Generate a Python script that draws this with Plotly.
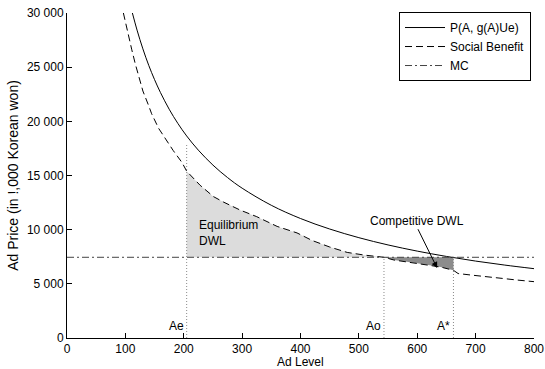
import plotly.graph_objects as go

# ---- data ----
solid_A = [112, 120, 130, 140, 150, 160, 175, 190, 205, 225, 250, 275, 300, 350,
           400, 450, 500, 550, 600, 650, 700, 750, 800]
solid_P = [30000, 28420, 26690, 25170, 23850, 22670, 21120, 19800, 18650, 17340,
           15960, 14810, 13830, 12250, 11030, 10060, 9260, 8590, 8020, 7530,
           7100, 6730, 6400]

social_A = [96.6, 104, 111, 117, 124, 130, 139.5, 145, 157, 168, 182, 197, 205,
            228, 251, 268, 297, 325, 360, 394, 420, 450, 480, 510, 543, 560,
            600, 640, 662, 670, 694, 714, 746, 771, 800]
social_P = [30000, 28100, 26600, 25300, 23900, 22800, 21500, 20700, 19350, 18400,
            17300, 16200, 15400, 14100, 13050, 12550, 11800, 11200, 10300, 9700,
            9000, 8400, 7900, 7650, 7450, 7200, 6900, 6550, 6250, 5950, 5800,
            5660, 5500, 5350, 5200]

MC = 7450
A_e = 205
A_o = 543
A_star = 662
Ae_top = 18000

x_ticks = [0, 100, 200, 300, 400, 500, 600, 700, 800]
y_ticks = [0, 5000, 10000, 15000, 20000, 25000, 30000]

# ---- build fill polygons from data ----
eq_x = [a for a in social_A if A_e <= a <= A_o]
eq_y = [p for a, p in zip(social_A, social_P) if A_e <= a <= A_o]
eq_x = eq_x + [A_o, A_e]
eq_y = eq_y + [MC, MC]

cp_x = [a for a in social_A if A_o <= a <= A_star]
cp_y = [p for a, p in zip(social_A, social_P) if A_o <= a <= A_star]
cp_x = cp_x + [A_star, A_o]
cp_y = cp_y + [MC, MC]

fig = go.Figure()

fig.add_trace(go.Scatter(x=eq_x, y=eq_y, fill='toself', mode='none',
                         fillcolor='#dcdcdc', showlegend=False, hoverinfo='skip'))
fig.add_trace(go.Scatter(x=cp_x, y=cp_y, fill='toself', mode='none',
                         fillcolor='#8c8c8c', showlegend=False, hoverinfo='skip'))

# vertical dotted guide lines
for a, top in [(A_e, Ae_top), (A_o, MC), (A_star, MC)]:
    fig.add_trace(go.Scatter(x=[a, a], y=[0, top], mode='lines',
                             line=dict(color='#8a8a8a', width=1, dash='1px,2px'),
                             showlegend=False, hoverinfo='skip'))

fig.add_trace(go.Scatter(x=solid_A, y=solid_P, mode='lines', name='P(A, g(A)Ue)',
                         line=dict(color='black', width=1, shape='spline')))
fig.add_trace(go.Scatter(x=social_A, y=social_P, mode='lines', name='Social Benefit',
                         line=dict(color='black', width=1, dash='7px,4px')))
fig.add_trace(go.Scatter(x=[0, 800], y=[MC, MC], mode='lines', name='MC',
                         line=dict(color='#444444', width=1, dash='7px,3px,2px,3px')))

# annotations
fig.add_annotation(x=223, y=9660, text='Equilibrium<br>DWL', showarrow=False,
                   xanchor='left', yanchor='middle', align='left',
                   font=dict(size=12, color='black'))
fig.add_annotation(x=600, y=10830, text='Competitive DWL', showarrow=False,
                   xanchor='center', yanchor='middle', font=dict(size=12, color='black'))
fig.add_annotation(x=634, y=6460, ax=600, ay=10180, axref='x', ayref='y',
                   text='', showarrow=True, arrowhead=2, arrowsize=1.2,
                   arrowwidth=1, arrowcolor='black')
for a, lab in [(A_e, 'Ae'), (A_o, 'Ao'), (A_star, 'A*')]:
    fig.add_annotation(x=a, y=1100, text=lab, showarrow=False, xanchor='right',
                       yanchor='middle', xshift=-1, font=dict(size=12, color='black'))

# x-axis title placed as paper annotation below the tick labels
fig.add_annotation(x=0.5, y=0, xref='paper', yref='paper', text='Ad Level',
                   showarrow=False, xanchor='center', yanchor='top', yshift=-16,
                   borderpad=0, font=dict(size=12, color='black'))

fig.update_layout(
    width=545, height=369,
    margin=dict(l=67, r=11, t=13, b=31),
    plot_bgcolor='white', paper_bgcolor='white',
    font=dict(family='Liberation Sans, Arial, sans-serif', size=12, color='black'),
    separators='. ',
    legend=dict(x=0.9936, xanchor='right', y=1.003, yanchor='top',
                bordercolor='black', borderwidth=1, bgcolor='white',
                font=dict(size=12), tracegroupgap=0, itemwidth=40),
)
fig.update_xaxes(range=[0, 800], tickvals=x_ticks, ticks='inside', ticklen=5,
                 tickcolor='black', showline=True, linecolor='black', linewidth=1,
                 showgrid=False, zeroline=False, automargin=False)
fig.update_yaxes(range=[0, 30000], tickvals=y_ticks, tickformat=',d', ticks='inside',
                 ticklen=5, tickcolor='black', showline=True, linecolor='black',
                 linewidth=1, showgrid=False, zeroline=False, automargin=False,
                 title=dict(text='Ad Price (in !,000 Korean won)', standoff=4))

fig.write_html('out.html')
